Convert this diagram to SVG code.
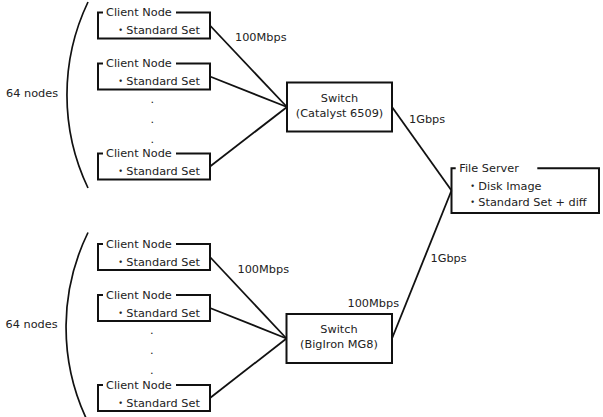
<svg xmlns="http://www.w3.org/2000/svg" width="603" height="417" viewBox="0 0 603 417">
<style>
text{font-family:"DejaVu Sans","Noto Sans CJK JP",sans-serif;font-size:11.3px;fill:#222}
.box{fill:none;stroke:#111;stroke-width:2}
.ln{fill:none;stroke:#111;stroke-width:1.8}
.br{fill:none;stroke:#111;stroke-width:1.7}
.c{text-anchor:middle}
</style>
<rect width="603" height="417" fill="#fff"/>
<g id="connectors">
<line class="ln" x1="210" y1="25.5" x2="287" y2="107"/>
<line class="ln" x1="210" y1="76.5" x2="287" y2="107"/>
<line class="ln" x1="210" y1="166.5" x2="287" y2="107"/>
<line class="ln" x1="210" y1="257" x2="286.5" y2="338.5"/>
<line class="ln" x1="210" y1="308" x2="286.5" y2="338.5"/>
<line class="ln" x1="210" y1="398" x2="286.5" y2="338.5"/>
<line class="ln" x1="392" y1="107" x2="451.5" y2="190.5"/>
<line class="ln" x1="392" y1="338.5" x2="451.5" y2="190.5"/>
<text x="235" y="41.3">100Mbps</text>
<text x="409" y="123.3">1Gbps</text>
<text x="237.5" y="272.7">100Mbps</text>
<text x="430.5" y="262.3">1Gbps</text>
<text x="347.5" y="306.7">100Mbps</text>
</g>
<g id="group-top">
<path class="br" d="M88,2 A216,216 0 0 0 88,188"/>
<text x="6" y="96.7">64 nodes</text>
<text class="c" x="152.3" y="102.7">.</text>
<text class="c" x="152.3" y="122.7">.</text>
<text class="c" x="152.3" y="142.7">.</text>
</g>
<g id="group-bottom">
<path class="br" d="M88,232.5 A216,216 0 0 0 86,418"/>
<text x="5.5" y="328.3">64 nodes</text>
<text class="c" x="151.8" y="334.3">.</text>
<text class="c" x="151.8" y="354.3">.</text>
<text class="c" x="151.8" y="374.3">.</text>
</g>
<g id="client1">
<path class="box" d="M103,12.5 H98 V38.5 H210 V12.5 H176"/>
<text x="106" y="16">Client Node</text>
<text x="115" y="34.3">・Standard Set</text>
</g>
<g id="client2">
<path class="box" d="M103,63.5 H98 V89.5 H210 V63.5 H176"/>
<text x="106" y="67">Client Node</text>
<text x="115" y="85.3">・Standard Set</text>
</g>
<g id="client3">
<path class="box" d="M103,153.5 H98 V179.5 H210 V153.5 H176"/>
<text x="106" y="157">Client Node</text>
<text x="115" y="175.3">・Standard Set</text>
</g>
<g id="client4">
<path class="box" d="M103,244 H98 V270 H210 V244 H176"/>
<text x="106" y="247.5">Client Node</text>
<text x="115" y="265.8">・Standard Set</text>
</g>
<g id="client5">
<path class="box" d="M103,295 H98 V321 H210 V295 H176"/>
<text x="106" y="298.5">Client Node</text>
<text x="115" y="316.8">・Standard Set</text>
</g>
<g id="client6">
<path class="box" d="M103,385 H98 V411 H210 V385 H176"/>
<text x="106" y="388.5">Client Node</text>
<text x="115" y="406.8">・Standard Set</text>
</g>
<g id="switch1">
<rect class="box" x="287" y="82.5" width="105" height="49"/>
<text class="c" x="339.5" y="101.7">Switch</text>
<text class="c" x="339.5" y="116.7">(Catalyst 6509)</text>
</g>
<g id="switch2">
<rect class="box" x="286.5" y="314" width="105.5" height="49"/>
<text class="c" x="339" y="333.3">Switch</text>
<text class="c" x="339" y="348.3">(BigIron MG8)</text>
</g>
<g id="fileserver">
<path class="box" d="M455.7,168.3 H451.5 V213 H599 V168.3 H537.3"/>
<text x="459.3" y="172">File Server</text>
<text x="467" y="190">・Disk Image</text>
<text x="467" y="206">・Standard Set + diff</text>
</g>
</svg>
